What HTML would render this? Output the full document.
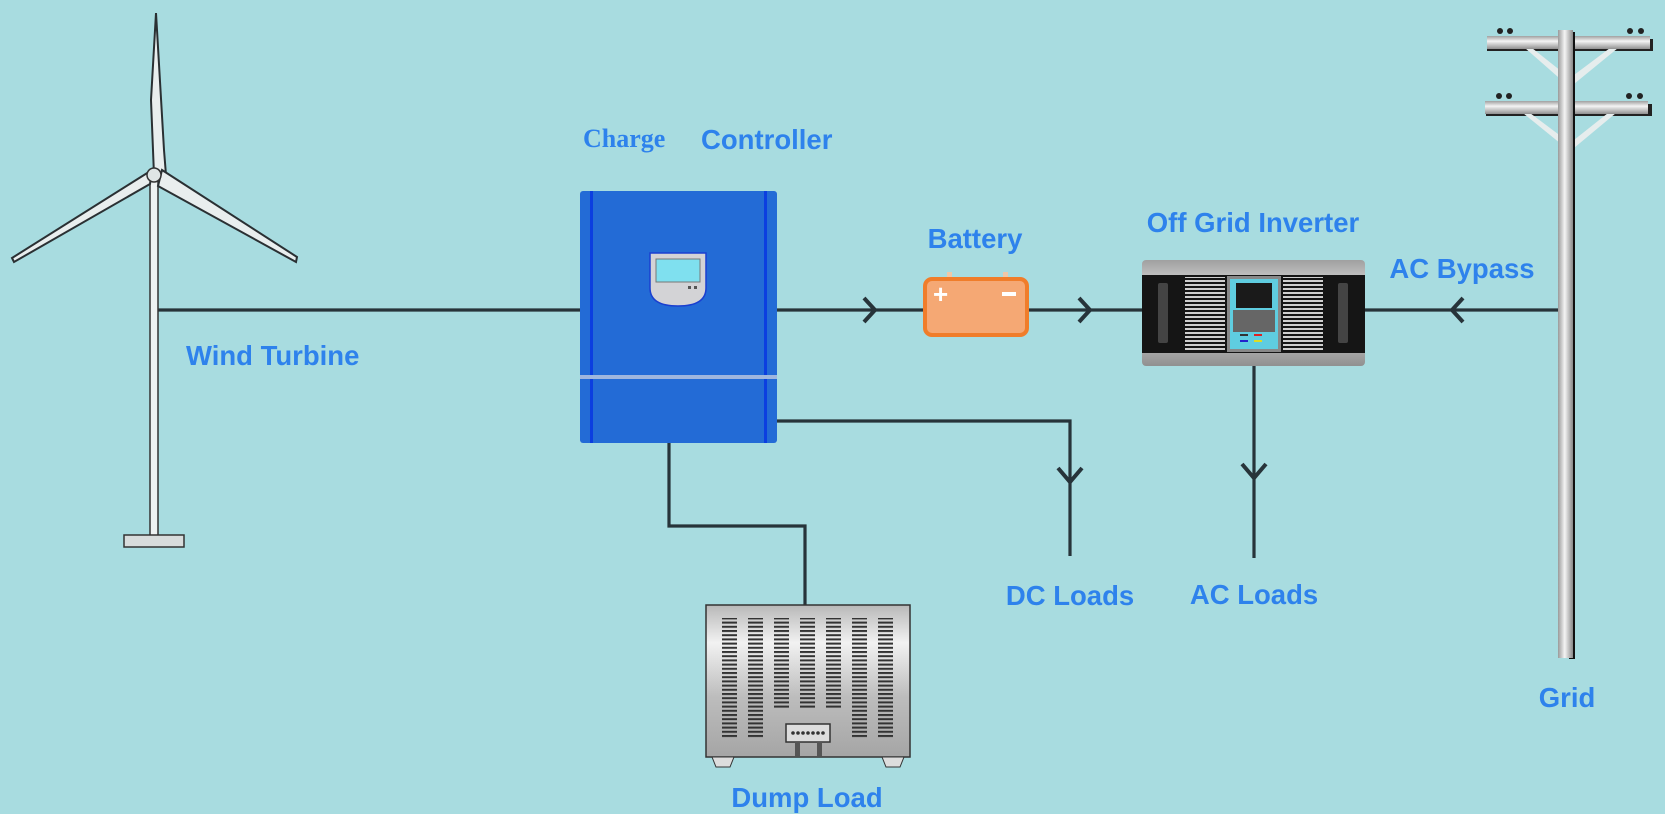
<!DOCTYPE html>
<html><head><meta charset="utf-8"><style>
html,body{margin:0;padding:0;background:#a8dce0;}
svg{display:block}
text{font-family:"Liberation Sans",sans-serif;font-weight:bold;fill:#2e82ec;font-size:27.5px}
</style></head><body>
<svg width="1665" height="814" viewBox="0 0 1665 814" xmlns="http://www.w3.org/2000/svg">
<defs>
<linearGradient id="pole" x1="0" x2="1" y1="0" y2="0"><stop offset="0" stop-color="#9a9a9a"/><stop offset="0.45" stop-color="#f4f4f4"/><stop offset="1" stop-color="#8a8a8a"/></linearGradient>
<linearGradient id="arm" x1="0" x2="0" y1="0" y2="1"><stop offset="0" stop-color="#a0a0a0"/><stop offset="0.4" stop-color="#f4f4f4"/><stop offset="1" stop-color="#909090"/></linearGradient>
<linearGradient id="metal" x1="0" x2="0" y1="0" y2="1"><stop offset="0" stop-color="#b8b8b8"/><stop offset="0.25" stop-color="#f2f2f2"/><stop offset="0.6" stop-color="#bdbdbd"/><stop offset="1" stop-color="#a5a5a5"/></linearGradient>
<pattern id="vent" width="15" height="4.2" patternUnits="userSpaceOnUse"><rect width="15" height="2" fill="#333"/></pattern>
<pattern id="grill" width="10" height="4" patternUnits="userSpaceOnUse"><rect width="10" height="2" fill="#cfcfcf"/></pattern>
</defs>
<rect width="1665" height="814" fill="#a8dce0"/>
<g stroke="#27343a" stroke-width="3.2" fill="none">
<line x1="158" y1="310" x2="580" y2="310"/>
<line x1="777" y1="310" x2="924" y2="310"/>
<line x1="1028" y1="310" x2="1142" y2="310"/>
<line x1="1365" y1="310" x2="1560" y2="310"/>
<polyline points="777,421 1070,421 1070,556"/>
<line x1="1254" y1="366" x2="1254" y2="558"/>
<polyline points="669,443 669,526 805,526 805,605"/>
</g>
<g stroke="#27343a" stroke-width="4" fill="none" stroke-linejoin="miter">
<polyline points="864,298 875,310 864,322"/>
<polyline points="1079,298 1090,310 1079,322"/>
<polyline points="1463,298 1452,310 1463,322"/>
<polyline points="1058,468 1070,482 1082,468"/>
<polyline points="1242,464 1254,478 1266,464"/>
</g>
<!-- wind turbine -->
<rect x="150" y="172" width="8" height="364" fill="#eef2f2" stroke="#333" stroke-width="1.5"/>
<rect x="124" y="535" width="60" height="12" fill="#d8dcdc" stroke="#333" stroke-width="1.5"/>
<polygon points="154,175 151,100 156,13 164,150 166,175" fill="#e9eeee" stroke="#2a3033" stroke-width="2"/>
<polygon points="152,170 12,258 14,262 150,184" fill="#e9eeee" stroke="#2a3033" stroke-width="2"/>
<polygon points="162,170 297,257 296,262 158,186" fill="#e9eeee" stroke="#2a3033" stroke-width="2"/>
<circle cx="154" cy="175" r="7" fill="#dfe5e5" stroke="#333" stroke-width="1.5"/>
<!-- controller -->
<rect x="580" y="191" width="197" height="252" rx="3" fill="#236bd6"/>
<rect x="590" y="191" width="3" height="252" fill="#0b3ee0"/>
<rect x="764" y="191" width="3" height="252" fill="#0b3ee0"/>
<rect x="580" y="375" width="197" height="4" fill="#9fb6de"/>
<path d="M650,253 h56 v35 q0,18 -28,18 q-28,0 -28,-18 z" fill="#d3d3d6" stroke="#1a3fd0" stroke-width="1.5"/>
<rect x="656" y="259" width="44" height="23" fill="#7fe0ef" stroke="#777" stroke-width="1"/>
<rect x="688" y="286" width="3" height="3" fill="#555"/><rect x="694" y="286" width="3" height="3" fill="#555"/>
<!-- battery -->
<rect x="947" y="272" width="5" height="8" fill="#f0c8a8"/><rect x="1003" y="272" width="5" height="8" fill="#f0c8a8"/>
<rect x="925" y="279" width="102" height="56" rx="7" fill="#f5a874" stroke="#f07d2a" stroke-width="4"/>
<text x="933" y="303" style="fill:#fff;font-size:26px">+</text>
<rect x="1002" y="292" width="14" height="4" fill="#fff"/>
<!-- inverter -->
<rect x="1142" y="260" width="223" height="106" rx="4" fill="url(#arm)"/>
<rect x="1142" y="275" width="223" height="78" fill="#151515"/>
<rect x="1158" y="283" width="10" height="60" rx="2" fill="#444"/>
<rect x="1338" y="283" width="10" height="60" rx="2" fill="#444"/>
<rect x="1185" y="277" width="40" height="74" fill="url(#grill)"/>
<rect x="1283" y="277" width="40" height="74" fill="url(#grill)"/>
<rect x="1227" y="276" width="54" height="76" fill="#888"/>
<rect x="1230" y="279" width="48" height="70" fill="#5fcde0"/>
<rect x="1236" y="283" width="36" height="25" fill="#1a1a1a"/>
<rect x="1233" y="310" width="42" height="22" fill="#666"/>
<rect x="1240" y="334" width="8" height="2" fill="#333"/><rect x="1254" y="334" width="8" height="2" fill="#d22"/>
<rect x="1240" y="340" width="8" height="2" fill="#22c"/><rect x="1254" y="340" width="8" height="2" fill="#dd2"/>
<!-- dump load -->
<rect x="706" y="605" width="204" height="152" fill="url(#metal)" stroke="#333" stroke-width="1.5"/>
<g fill="url(#vent)">
<rect x="722" y="618" width="15" height="120"/><rect x="748" y="618" width="15" height="120"/>
<rect x="774" y="618" width="15" height="90"/><rect x="800" y="618" width="15" height="90"/>
<rect x="826" y="618" width="15" height="90"/><rect x="852" y="618" width="15" height="120"/>
<rect x="878" y="618" width="15" height="120"/>
</g>
<rect x="786" y="724" width="44" height="18" fill="#ddd" stroke="#333" stroke-width="1.5"/>
<g fill="#333"><circle cx="793" cy="733" r="1.8"/><circle cx="798" cy="733" r="1.8"/><circle cx="803" cy="733" r="1.8"/><circle cx="808" cy="733" r="1.8"/><circle cx="813" cy="733" r="1.8"/><circle cx="818" cy="733" r="1.8"/><circle cx="823" cy="733" r="1.8"/></g>
<rect x="795" y="742" width="5" height="14" fill="#555"/><rect x="817" y="742" width="5" height="14" fill="#555"/>
<path d="M712,757 h22 l-4,10 h-14 z" fill="#ddd" stroke="#333"/>
<path d="M882,757 h22 l-4,10 h-14 z" fill="#ddd" stroke="#333"/>
<!-- pole -->
<rect x="1487" y="39" width="166" height="12" fill="#222"/>
<rect x="1486" y="104" width="166" height="12" fill="#222"/>
<polygon points="1525,48 1532,48 1566,75 1566,84" fill="#e6eded"/>
<polygon points="1610,48 1618,48 1574,84 1574,75" fill="#e6eded"/>
<polygon points="1523,113 1530,113 1566,140 1566,148" fill="#e6eded"/>
<polygon points="1608,113 1616,113 1574,148 1574,140" fill="#e6eded"/>
<rect x="1487" y="36" width="163" height="13" fill="url(#arm)"/>
<rect x="1485" y="101" width="163" height="13" fill="url(#arm)"/>
<rect x="1569" y="32" width="6" height="627" fill="#111"/>
<rect x="1558" y="30" width="15" height="628" fill="url(#pole)"/>
<g fill="#222"><circle cx="1500" cy="31" r="3"/><circle cx="1510" cy="31" r="3"/><circle cx="1630" cy="31" r="3"/><circle cx="1641" cy="31" r="3"/>
<circle cx="1499" cy="96" r="3"/><circle cx="1509" cy="96" r="3"/><circle cx="1629" cy="96" r="3"/><circle cx="1640" cy="96" r="3"/></g>
<!-- labels -->
<text x="583" y="147" style="font-family:'Liberation Serif',serif;font-size:26px">Charge</text>
<text x="701" y="149">Controller</text>
<text x="186" y="365">Wind Turbine</text>
<text x="975" y="248" text-anchor="middle">Battery</text>
<text x="1253" y="232" text-anchor="middle">Off Grid Inverter</text>
<text x="1462" y="278" text-anchor="middle">AC Bypass</text>
<text x="1070" y="605" text-anchor="middle">DC Loads</text>
<text x="1254" y="604" text-anchor="middle">AC Loads</text>
<text x="807" y="807" text-anchor="middle">Dump Load</text>
<text x="1567" y="707" text-anchor="middle">Grid</text>
</svg>
</body></html>
